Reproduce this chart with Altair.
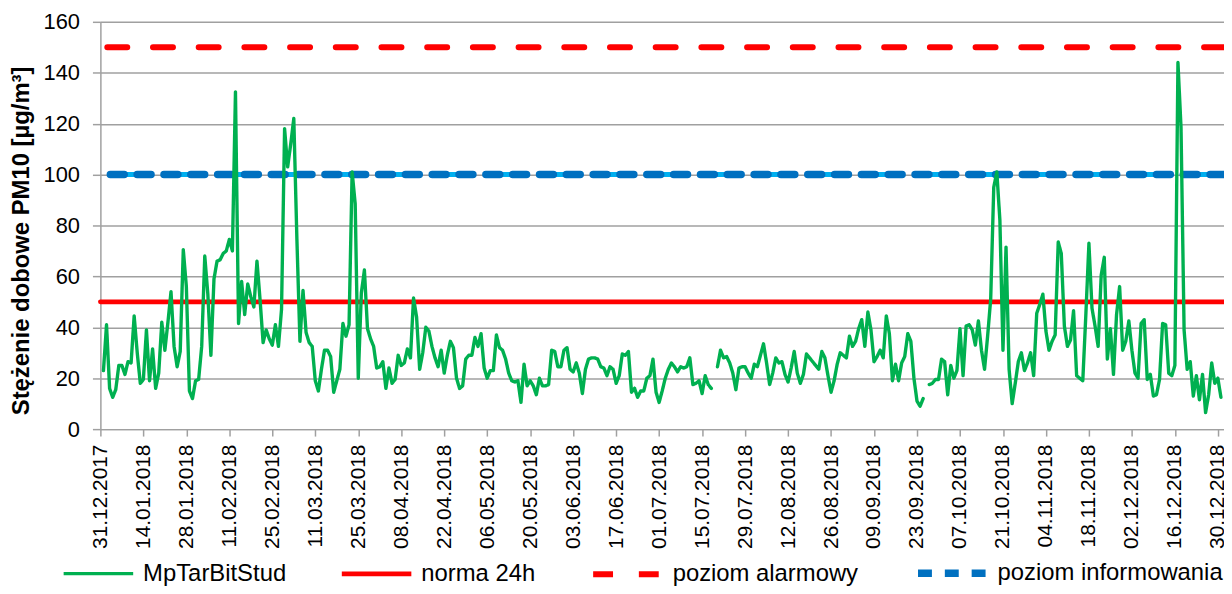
import json
import altair as alt
import pandas as pd

tick_labels = [
    "31.12.2017", "14.01.2018", "28.01.2018", "11.02.2018", "25.02.2018", "11.03.2018",
    "25.03.2018", "08.04.2018", "22.04.2018", "06.05.2018", "20.05.2018", "03.06.2018",
    "17.06.2018", "01.07.2018", "15.07.2018", "29.07.2018", "12.08.2018", "26.08.2018",
    "09.09.2018", "23.09.2018", "07.10.2018", "21.10.2018", "04.11.2018", "18.11.2018",
    "02.12.2018", "16.12.2018", "30.12.2018",
]

series_name = "MpTarBitStud"

# daily PM10, 01.01.2018 .. 31.12.2018 (None = missing day)
pm10 = [
    23, 41, 16, 12.5, 15.5, 25, 25, 21.5, 26.5, 26,
    44.5, 30, 18, 19.5, 39, 19, 31.5, 16, 22, 42,
    31, 42, 54, 32.5, 24.5, 30.5, 70.5, 56, 15, 12,
    19, 19.5, 32.5, 68, 53, 29, 59, 66, 66.5, 69,
    70, 74.5, 70, 132.5, 41.5, 58, 45, 57, 52, 48,
    66, 51, 34, 39, 35.5, 33, 41, 32.5, 47, 118,
    103, 112, 122, 75, 34.5, 54.5, 38, 34, 32.5, 19,
    15, 23.5, 31, 31, 28.5, 14.5, 19, 23.5, 41.5, 36.5,
    41, 101, 88.5, 20, 53.5, 62.5, 39.5, 35.5, 32.5, 24,
    24.5, 26.5, 16, 24, 18, 19.5, 29, 25, 26, 31.5,
    28, 51.5, 44, 23.5, 30, 40, 38.5, 32.5, 28, 24.5,
    31, 22, 29, 34.5, 32, 20, 16, 17, 27.5, 29,
    29, 36, 32.5, 37.5, 24, 20, 23, 23, 37, 32,
    31, 27.5, 22, 19, 18.5, 19, 10.5, 25.5, 17, 19,
    17, 13.5, 20, 17, 17, 17.5, 31, 30.5, 24.5, 24.5,
    31, 32, 23.5, 22.5, 26, 22, 14, 23.5, 27.5, 28,
    28, 27.5, 24.5, 24, 21, 24.5, 23.5, 18, 21, 29.5,
    29, 30.5, 14.5, 16, 12.5, 15, 15, 20, 21, 27.5,
    14.5, 10.5, 15, 20, 23.5, 26, 24.5, 22.5, 24.5, 24,
    24.5, 28, 17.5, 18, 19, 14, 21, 17.5, 16, None,
    24.5, 31, 28, 28.5, 26, 22, 15.5, 24, 24.5, 24.5,
    22, 20, 25.5, 24.5, 29, 33.5, 26, 17.5, 22, 28,
    26, 26.5, 21.5, 18.5, 24, 30.5, 22, 18, 21.5, 29.5,
    28, 26.5, 25, 23.5, 30.5, 28, 21, 14.5, 19, 25.5,
    30, 29, 28, 36.5, 32.5, 34.5, 39.5, 43, 32.5, 46,
    39, 26.5, 28.5, 31, 28, 44.5, 37.5, 19, 25.5, 19,
    26, 28.5, 37.5, 34.5, 20, 11, 9, 12, None, 17.5,
    18, 19.5, 19.5, 27.5, 26.5, 13.5, 25, 20, 23, 39.5,
    21, 40.5, 41, 39, 33, 42.5, 31, 23.5, 36.5, 51,
    95, 101, 82, 31, 71.5, 23.5, 10, 18, 26.5, 30,
    23, 26, 30, 21, 45.5, 49, 53, 38.5, 31, 34.5,
    37, 73.5, 69, 40.5, 32.5, 35, 46.5, 21, 20, 19,
    45, 73, 47.5, 40.5, 32.5, 60.5, 67.5, 27.5, 39.5, 21.5,
    45, 56, 31, 34.5, 42.5, 31, 22, 20, 41.5, 43,
    19.5, 21.5, 13, 13.5, 19.5, 41.5, 41, 22, 21, 25,
    144, 118.5, 39, 23.5, 26.5, 13, 21, 11.5, 21.5, 6.5,
    13.5, 26, 18, 20, 12.5,
]

threshold_names = ["norma 24h", "poziom alarmowy", "poziom informowania"]
threshold_values = [50, 150, 100]

series_order = [series_name] + threshold_names
series_colors = ["#00B050", "#FF0000", "#FF0000", "#0070C0"]
series_dashes = [[1, 0], [1, 0], [20, 26], [14, 13]]
series_widths = [3.4, 7.5, 6.5, 6.5]

df_pm = pd.DataFrame({
    "day": list(range(1, len(pm10) + 1)),
    "value": pm10,
    "series": series_name,
})
df_thr = pd.DataFrame({"series": threshold_names, "value": threshold_values})
df_info = df_thr[df_thr["series"] == "poziom informowania"]

FONT = "Liberation Sans"
GRAY = "#A0A0A0"

legend = alt.Legend(
    title=None, orient="none", legendX=-41, legendY=516,
    direction="horizontal", columns=4, gridAlign="each", columnPadding=45,
    symbolType="stroke", symbolSize=4900, labelFontSize=24, labelFont=FONT,
    labelColor="black", labelOffset=6, labelLimit=400, labelBaseline="middle",
)

color_enc = alt.Color("series:N", scale=alt.Scale(domain=series_order, range=series_colors), legend=legend)
dash_enc = alt.StrokeDash("series:N", scale=alt.Scale(domain=series_order, range=series_dashes), legend=legend)
width_enc = alt.StrokeWidth("series:N", scale=alt.Scale(domain=series_order, range=series_widths), legend=legend)

label_js = json.dumps(tick_labels)
x_axis = alt.Axis(
    values=list(range(0, 14 * len(tick_labels), 14)),
    labelExpr=f"{label_js}[round(datum.value / 14)]",
    labelAngle=270, labelFontSize=21, labelFont=FONT, labelColor="black",
    labelPadding=8, tickSize=7, tickColor=GRAY, tickWidth=1.5,
    domainColor=GRAY, domainWidth=1.5, grid=False, title=None,
    labelOverlap=False, labelFlush=False,
)
y_axis = alt.Axis(
    values=list(range(0, 161, 20)), grid=True, gridColor=GRAY, gridWidth=1.5,
    tickSize=8, tickColor=GRAY, tickWidth=1.5, domainColor=GRAY, domainWidth=1.5,
    labelFontSize=22, labelFont=FONT, labelColor="black", labelPadding=13,
    title="Stężenie dobowe PM10 [µg/m³]", titleFont=FONT, titleFontSize=24,
    titleFontWeight="bold", titleColor="black", titleX=-79, titleY=220,
    titleBaseline="middle", titleAngle=270,
)

x_enc = alt.X("day:Q", scale=alt.Scale(domain=[0, 366], nice=False, zero=False), axis=x_axis)
y_enc = alt.Y("value:Q", scale=alt.Scale(domain=[0, 160], nice=False), axis=y_axis)

info_bg = alt.Chart(df_info).mark_rule(
    color="#00B0F0", strokeWidth=5, strokeDash=[26, 28], strokeCap="round"
).encode(y=y_enc)

rules = alt.Chart(df_thr).mark_rule(strokeCap="round").encode(
    y=y_enc, color=color_enc, strokeDash=dash_enc, strokeWidth=width_enc
)

line = alt.Chart(df_pm).mark_line(
    strokeJoin="round", strokeCap="round", invalid="break-paths-show-domains"
).encode(
    x=x_enc, y=y_enc, color=color_enc, strokeDash=dash_enc, strokeWidth=width_enc
)

chart = alt.layer(info_bg, rules, line).properties(
    width=1131, height=410,
    autosize=alt.AutoSizeParams(type="none"),
    padding={"left": 93, "top": 12, "right": 0, "bottom": 156},
).configure(font=FONT).configure_view(strokeWidth=0)

chart.save("out.html", embed_options={"renderer": "svg", "actions": False})
